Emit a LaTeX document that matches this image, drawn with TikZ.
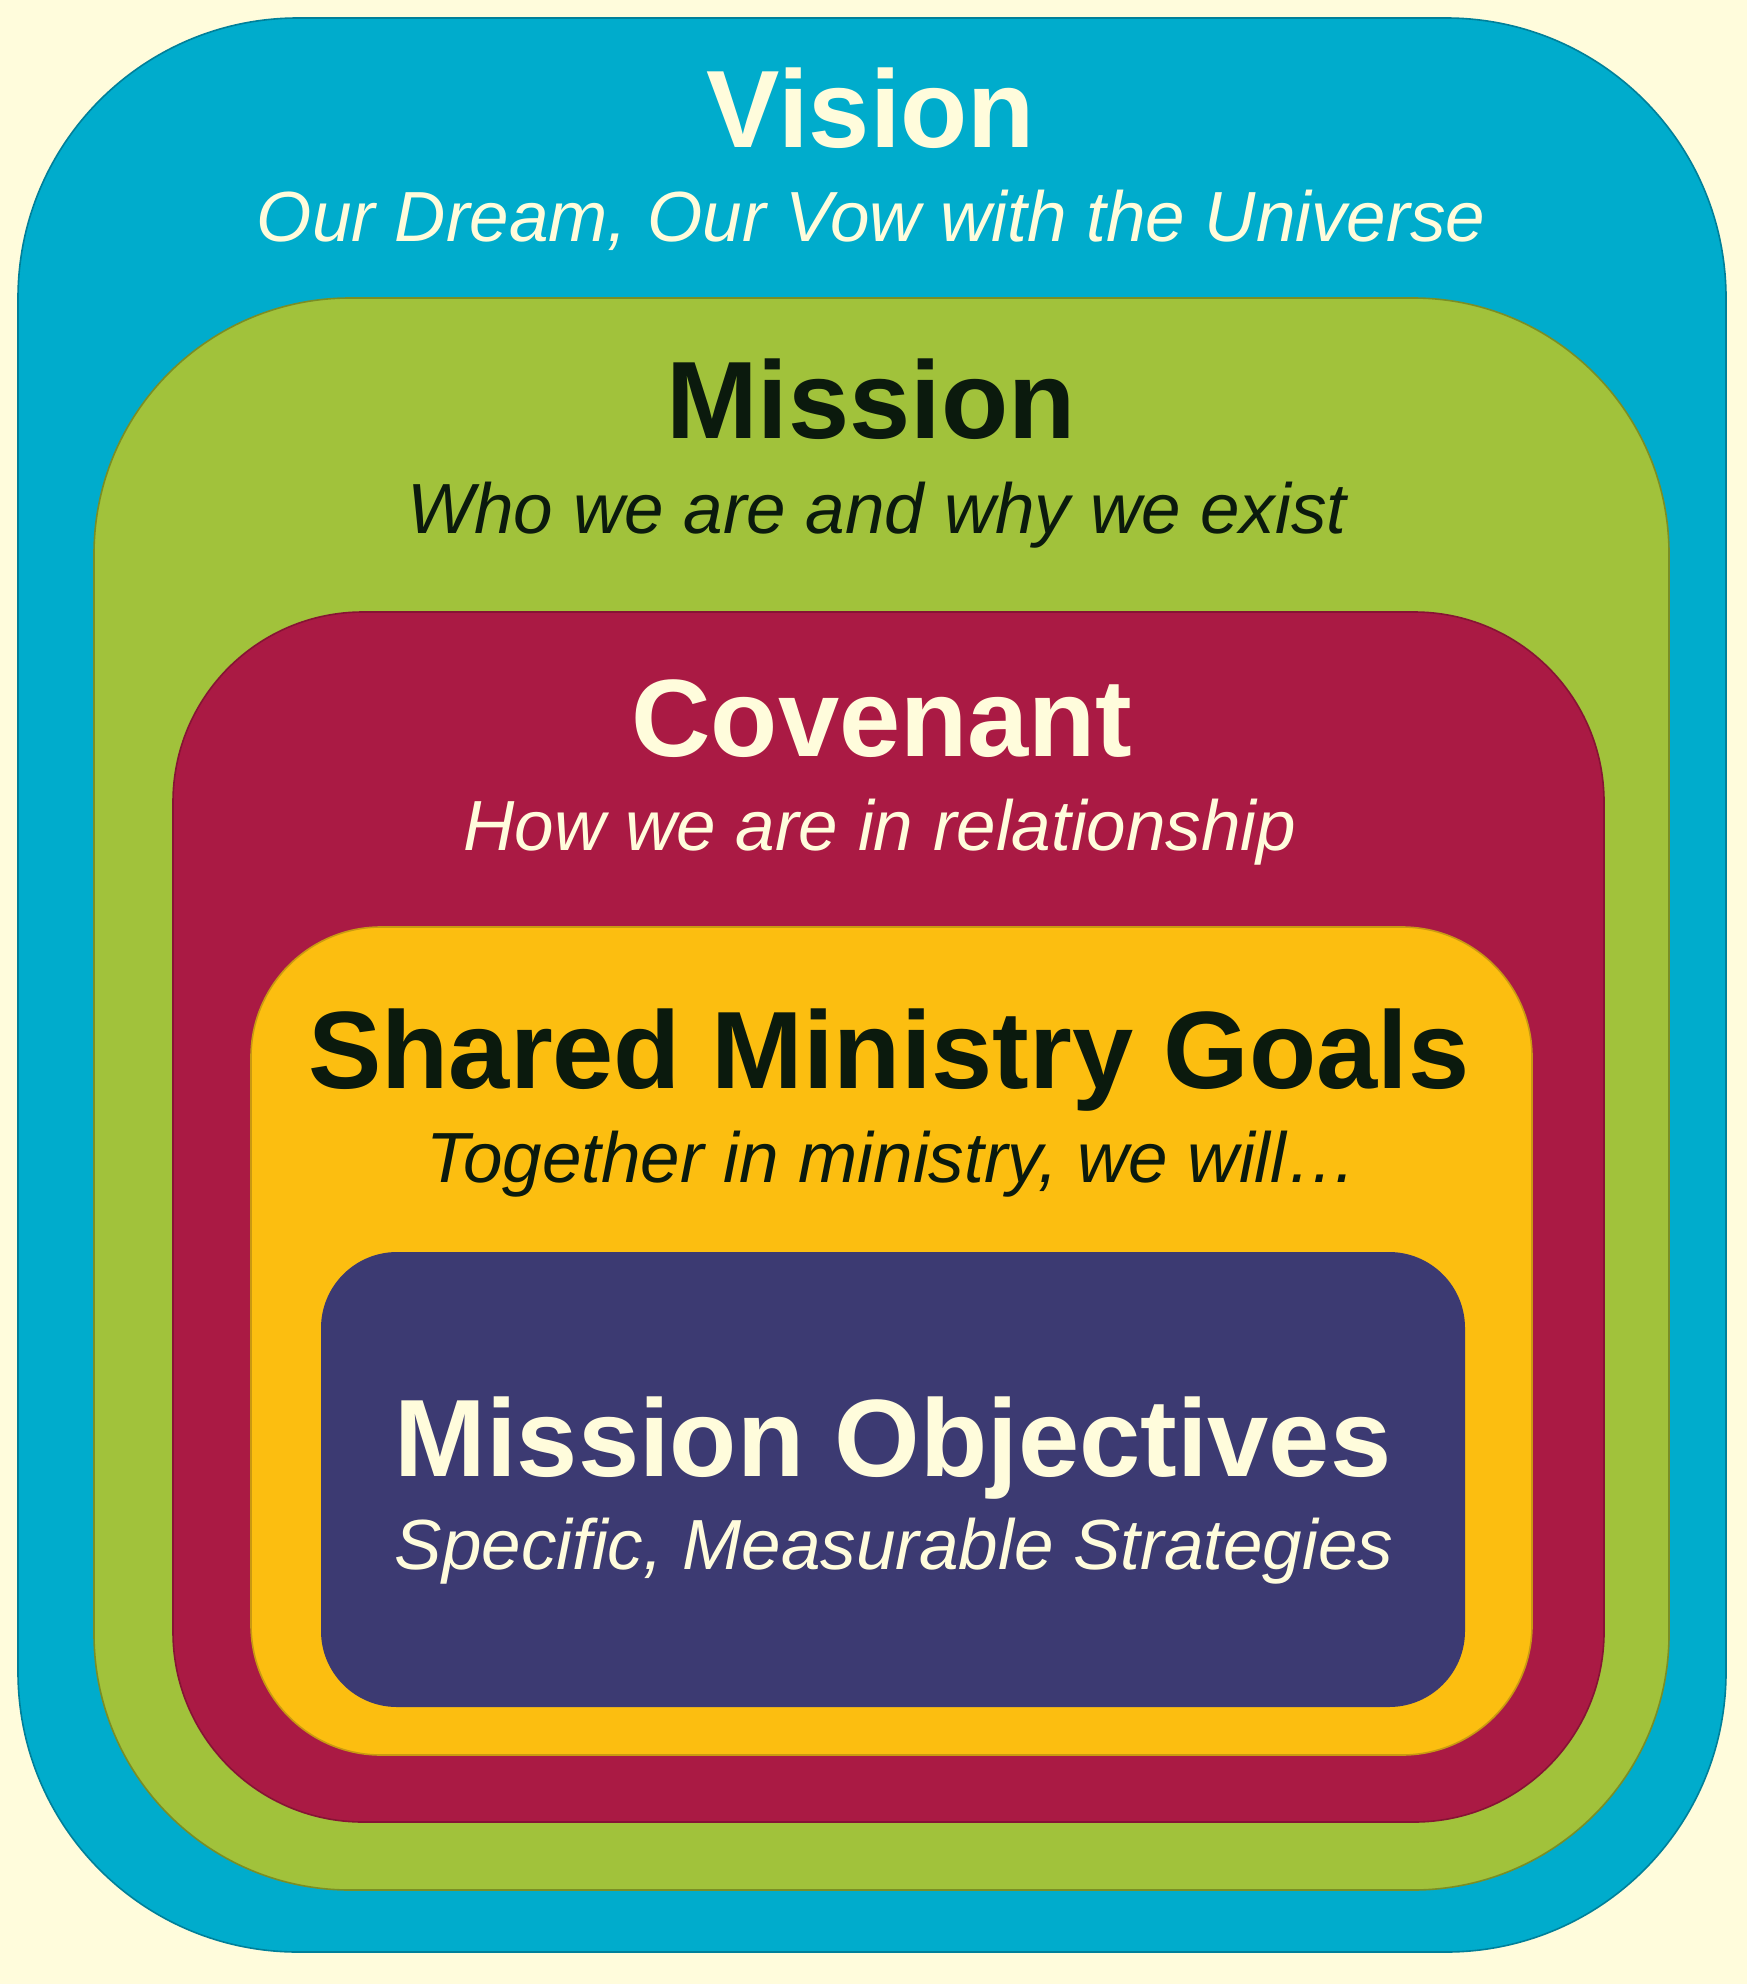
\documentclass[tikz,border=0pt]{standalone}
\usepackage{fontspec}
\setmainfont{Liberation Sans}
\definecolor{cream}{HTML}{FFFCDC}
\definecolor{visionblue}{HTML}{00ACCC}
\definecolor{visionedge}{HTML}{00809A}
\definecolor{missiongreen}{HTML}{A1C23B}
\definecolor{missionedge}{HTML}{7A8E25}
\definecolor{covenantred}{HTML}{AA1A44}
\definecolor{covenantedge}{HTML}{861434}
\definecolor{goalyellow}{HTML}{FCBE10}
\definecolor{goaledge}{HTML}{C99A12}
\definecolor{objpurple}{HTML}{3C3A72}
\definecolor{darktext}{HTML}{0B1A0D}
\tikzset{
  layer/.style={line width=0.8pt, rounded corners=#1},
  title/.style={anchor=base, font=\bfseries\fontsize{55}{60}\selectfont},
  subtitle/.style={anchor=base, font=\itshape\fontsize{35.5}{40}\selectfont}
}

\begin{document}
\begin{tikzpicture}[x=0.5pt, y=-0.5pt]
  \fill[cream] (0,0) rectangle (1747,1984);
  \useasboundingbox (0,0) rectangle (1747,1984);
  % nested layers, outside in
  \draw[layer=140pt, fill=visionblue, draw=visionedge] (18,18) rectangle (1726,1952);
  \draw[layer=128pt, fill=missiongreen, draw=missionedge] (94,298) rectangle (1669,1890);
  \draw[layer=95pt, fill=covenantred, draw=covenantedge] (173,612) rectangle (1604,1822);
  \draw[layer=65pt, fill=goalyellow, draw=goaledge] (251,927) rectangle (1532,1755);
  \fill[layer=38pt, objpurple] (321,1252) rectangle (1465,1707);
  % labels
  \node[title, text=cream] (vision) at (871,148) {Vision};
  \node[subtitle, text=cream] (visionsub) at (871,242) {Our Dream, Our Vow with the Universe};
  \node[title, text=darktext] (mission) at (871,439) {Mission};
  \node[subtitle, text=darktext] (missionsub) at (877,533) {Who we are and why we exist};
  \node[title, text=cream] (covenant) at (882,756) {Covenant};
  \node[subtitle, text=cream] (covenantsub) at (880,850) {How we are in relationship};
  \node[title, text=darktext] (goals) at (889,1088) {Shared Ministry Goals};
  \node[subtitle, text=darktext] (goalssub) at (892,1182) {Together in ministry, we will…};
  \node[title, text=cream] (objectives) at (893,1476) {Mission Objectives};
  \node[subtitle, text=cream] (objectivessub) at (894,1569) {Specific, Measurable Strategies};
\end{tikzpicture}
\end{document}
